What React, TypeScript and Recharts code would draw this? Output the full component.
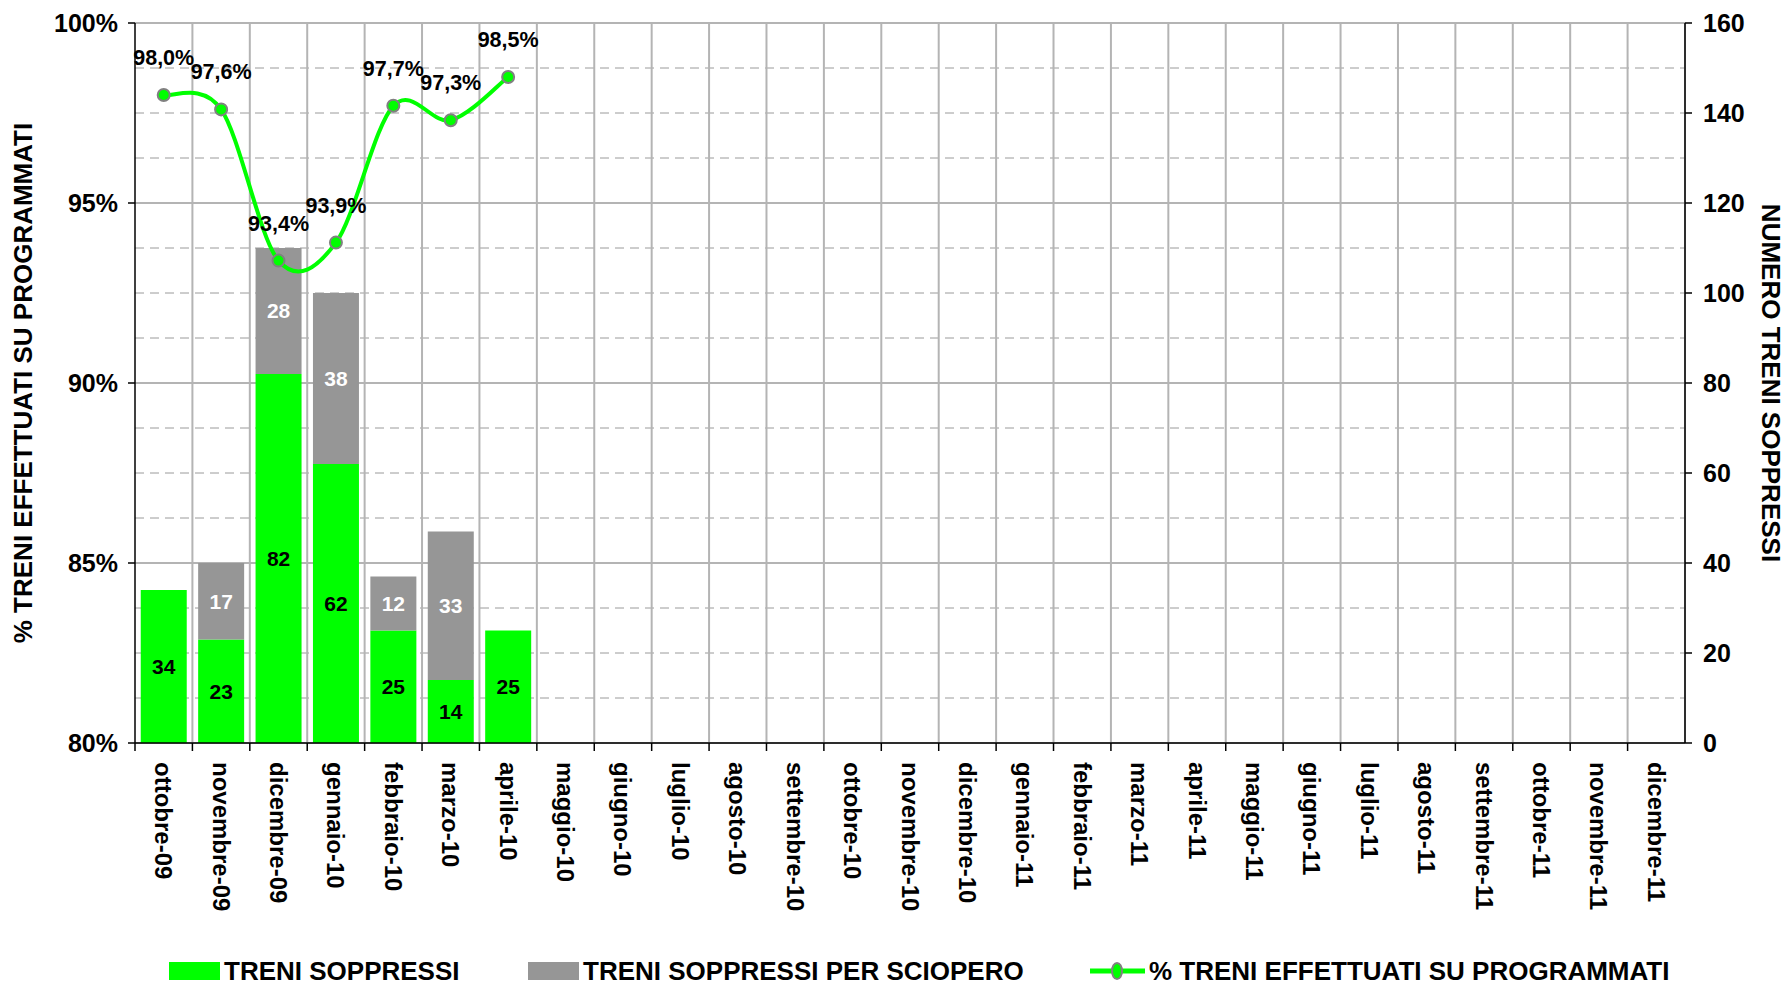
import React from 'react';
import {
  ComposedChart, Bar, Line, XAxis, YAxis, CartesianGrid, Legend, LabelList
} from 'recharts';

const MONTHS = [
  'ottobre-09', 'novembre-09', 'dicembre-09',
  'gennaio-10', 'febbraio-10', 'marzo-10', 'aprile-10', 'maggio-10', 'giugno-10',
  'luglio-10', 'agosto-10', 'settembre-10', 'ottobre-10', 'novembre-10', 'dicembre-10',
  'gennaio-11', 'febbraio-11', 'marzo-11', 'aprile-11', 'maggio-11', 'giugno-11',
  'luglio-11', 'agosto-11', 'settembre-11', 'ottobre-11', 'novembre-11', 'dicembre-11',
];
const SOPPRESSI = [34, 23, 82, 62, 25, 14, 25];
const SCIOPERO = [null, 17, 28, 38, 12, 33, null];
const PERCENTUALE = [98.0, 97.6, 93.4, 93.9, 97.7, 97.3, 98.5];

const LEFT_TICKS = [80, 85, 90, 95, 100];
const RIGHT_TICKS = [0, 20, 40, 60, 80, 100, 120, 140, 160];
const MINOR_TICKS = [10, 20, 30, 50, 60, 70, 90, 100, 110, 130, 140, 150];

const data = MONTHS.map((name, i) => ({
  name,
  soppressi: SOPPRESSI[i] ?? null,
  sciopero: SCIOPERO[i] ?? null,
  pct: PERCENTUALE[i] ?? null,
}));

const W = 1789;
const H = 983;
const LEFT_W = 135;
const RIGHT_W = 104;
const PLOT_W = W - LEFT_W - RIGHT_W;
const BAND = PLOT_W / MONTHS.length;
const FONT = '"Liberation Sans", Arial, sans-serif';
const GREEN = '#00ff00';
const GREY = '#969696';

// smoothing like the spreadsheet's "smoothed line" (Catmull-Rom bezier)
const smoothCurve = (context: any) => {
  let pts: number[][] = [];
  return {
    areaStart() {},
    areaEnd() {},
    lineStart() { pts = []; },
    point(x: number, y: number) { pts.push([+x, +y]); },
    lineEnd() {
      const n = pts.length;
      if (!n) return;
      context.moveTo(pts[0][0], pts[0][1]);
      for (let i = 0; i < n - 1; i++) {
        const p0 = pts[i - 1] || pts[i];
        const p1 = pts[i];
        const p2 = pts[i + 1];
        const p3 = pts[i + 2] || pts[i + 1];
        context.bezierCurveTo(
          p1[0] + (p2[0] - p0[0]) / 6, p1[1] + (p2[1] - p0[1]) / 6,
          p2[0] - (p3[0] - p1[0]) / 6, p2[1] - (p3[1] - p1[1]) / 6,
          p2[0], p2[1],
        );
      }
    },
  };
};

const XTick = (props: any) => {
  const { x, y, payload } = props;
  return (
    <g>
      <line x1={x - BAND / 2} x2={x - BAND / 2} y1={y} y2={y + 8} stroke="#000" strokeWidth={1.5} />
      <text
        x={x}
        y={y + 19}
        transform={`rotate(90, ${x}, ${y + 19})`}
        textAnchor="start"
        dominantBaseline="central"
        fontFamily={FONT}
        fontWeight="bold"
        fontSize={24}
        fill="#000"
      >
        {payload.value}
      </text>
    </g>
  );
};

const AxisTitle = (props: any) => {
  const { viewBox, text, shift, rot } = props;
  const x = viewBox.x + shift;
  const y = viewBox.y + viewBox.height / 2;
  return (
    <text
      x={x}
      y={y}
      transform={`rotate(${rot}, ${x}, ${y})`}
      textAnchor="middle"
      dominantBaseline="central"
      fontFamily={FONT}
      fontWeight="bold"
      fontSize={26}
      fill="#000"
    >
      {text}
    </text>
  );
};

const LegendContent = () => {
  const item = (left: number, icon: React.ReactNode, label: string) => (
    <div style={{ position: 'absolute', left, top: 20, height: 26, display: 'flex', alignItems: 'center' }}>
      {icon}
      <span style={{ marginLeft: 4, whiteSpace: 'nowrap' }}>{label}</span>
    </div>
  );
  return (
    <div style={{ position: 'relative', height: 45, width: W, fontFamily: FONT, fontWeight: 'bold', fontSize: 26, color: '#000' }}>
      {item(169, <div style={{ width: 51, height: 18, background: GREEN }} />, 'TRENI SOPPRESSI')}
      {item(528, <div style={{ width: 51, height: 18, background: GREY }} />, 'TRENI SOPPRESSI PER SCIOPERO')}
      {item(1090, (
        <svg width={55} height={20}>
          <line x1={0} x2={55} y1={10} y2={10} stroke={GREEN} strokeWidth={5} />
          <ellipse cx={27} cy={10} rx={5} ry={8} fill={GREEN} stroke="#808080" strokeWidth={2} />
        </svg>
      ), '% TRENI EFFETTUATI SU PROGRAMMATI')}
    </div>
  );
};

const fmtPct = (v: any) => (v == null ? '' : `${Number(v).toFixed(1).replace('.', ',')}%`);

export default function App() {
  return (
    <div style={{ position: 'absolute', top: 0, left: 0, width: W, height: H, background: '#fff' }}>
      <ComposedChart
        width={W}
        height={H}
        data={data}
        margin={{ top: 23, right: 0, bottom: 0, left: 0 }}
        barCategoryGap="10%"
      >
        <CartesianGrid
          yAxisId="right"
          vertical={false}
          stroke="#9a9a9a"
          strokeDasharray="9 6"
          strokeWidth={1}
          horizontalCoordinatesGenerator={({ yAxis, offset }: any) =>
            MINOR_TICKS.map((v) =>
              yAxis && typeof yAxis.scale === 'function'
                ? yAxis.scale(v)
                : offset.top + offset.height * (1 - v / 160))
          }
        />
        <CartesianGrid
          yAxisId="left"
          stroke="#b4b4b4"
          strokeWidth={2}
          verticalCoordinatesGenerator={({ offset }: any) =>
            MONTHS.map((_, i) => offset.left + (i + 1) * offset.width / MONTHS.length)
          }
        />
        <XAxis
          dataKey="name"
          interval={0}
          height={195}
          tick={<XTick />}
          tickLine={false}
          tickSize={0}
          tickMargin={0}
          axisLine={{ stroke: '#000', strokeWidth: 1.5 }}
        />
        <YAxis
          yAxisId="left"
          orientation="left"
          width={LEFT_W}
          domain={[80, 100]}
          ticks={LEFT_TICKS}
          tickFormatter={(v) => `${v}%`}
          tick={{ fill: '#000', fontSize: 25, fontWeight: 'bold', fontFamily: FONT }}
          tickSize={7}
          tickMargin={10}
          tickLine={{ stroke: '#000', strokeWidth: 1.5 }}
          axisLine={{ stroke: '#000', strokeWidth: 1.5 }}
          allowDataOverflow
          label={<AxisTitle text="% TRENI EFFETTUATI SU PROGRAMMATI" shift={23} rot={-90} />}
        />
        <YAxis
          yAxisId="right"
          orientation="right"
          width={RIGHT_W}
          domain={[0, 160]}
          ticks={RIGHT_TICKS}
          tick={{ fill: '#000', fontSize: 25, fontWeight: 'bold', fontFamily: FONT }}
          tickSize={7}
          tickMargin={11}
          tickLine={{ stroke: '#000', strokeWidth: 1.5 }}
          axisLine={{ stroke: '#000', strokeWidth: 1.5 }}
          label={<AxisTitle text="NUMERO TRENI SOPPRESSI" shift={86} rot={90} />}
        />
        <Legend verticalAlign="bottom" height={45} content={<LegendContent />} />
        <Bar yAxisId="right" dataKey="soppressi" stackId="a" fill={GREEN} isAnimationActive={false}>
          <LabelList dataKey="soppressi" position="center" fill="#000" fontSize={21} fontWeight="bold" fontFamily={FONT} />
        </Bar>
        <Bar yAxisId="right" dataKey="sciopero" stackId="a" fill={GREY} isAnimationActive={false}>
          <LabelList dataKey="sciopero" position="center" fill="#fff" fontSize={21} fontWeight="bold" fontFamily={FONT} />
        </Bar>
        <Line
          yAxisId="left"
          type={smoothCurve as any}
          dataKey="pct"
          stroke={GREEN}
          strokeWidth={4}
          dot={{ r: 6, fill: GREEN, stroke: '#808080', strokeWidth: 2 }}
          isAnimationActive={false}
        >
          <LabelList dataKey="pct" position="top" offset={30} formatter={fmtPct} fill="#000" fontSize={21.5} fontWeight="bold" fontFamily={FONT} />
        </Line>
      </ComposedChart>
    </div>
  );
}
